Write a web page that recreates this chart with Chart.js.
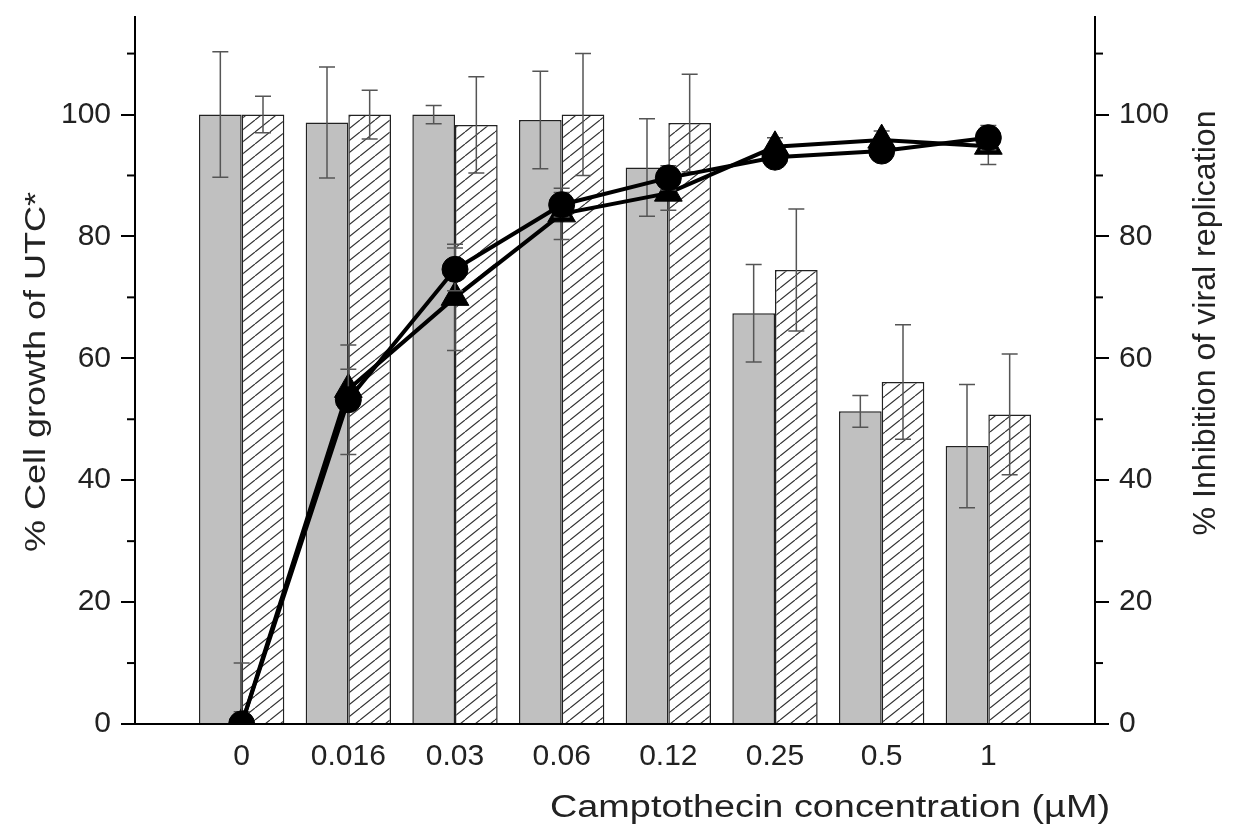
<!DOCTYPE html>
<html>
<head>
<meta charset="utf-8">
<script src="https://cdn.jsdelivr.net/npm/chart.js@4.4.1/dist/chart.umd.min.js"></script>
<style>
  html, body { margin: 0; padding: 0; background: #fff; }
  #wrap { width: 1234px; height: 828px; }
</style>
</head>
<body>
<div id="wrap"><canvas id="myChart"></canvas></div>
<script>
// camptothecin concentrations (uM)
var categories = ['0', '0.016', '0.03', '0.06', '0.12', '0.25', '0.5', '1'];

// % cell growth of UTC (left axis)
var growthSolid = [100, 98.7, 100, 99.1, 91.3, 67.4, 51.3, 45.6];
var growthSolidErr = [10.3, 9.1, 1.5, 8, 8, 8, 2.6, 10.1];
var growthHatched = [100, 100, 98.3, 100, 98.6, 74.5, 56.1, 50.8];
var growthHatchedErr = [3, 4, 7.9, 10, 8, 10, 9.4, 9.9];

// % inhibition of viral replication (right axis)
var inhibCircle = [0, 53.2, 74.6, 85.2, 89.6, 93, 94, 96.2];
var inhibCircleErr = [10, 9, 3.5, 2, 2, 1.5, 1.5, 2];
var inhibTriangle = [0, 54.9, 70, 83.7, 87.1, 94.7, 95.8, 94.8];
var inhibTriangleErr = [2, 3.3, 8.7, 4.2, 2.8, 1.5, 1.5, 3];

var yTicks = [0, 20, 40, 60, 80, 100];
var yMax = 116;

// one empty slot each side of the categories
function pad(arr) { return [null].concat(arr, [null]); }

var FONT = "'Liberation Sans', Arial, sans-serif";
Chart.defaults.font.family = FONT;

var ctx = document.getElementById('myChart').getContext('2d');

function makeHatch() {
    var c = document.createElement('canvas');
    c.width = 15; c.height = 12;
    var g = c.getContext('2d');
    g.fillStyle = '#fff';
    g.fillRect(0, 0, 15, 12);
    g.strokeStyle = '#333';
    g.lineWidth = 1.2;
    g.beginPath();
    for (var k = -1; k <= 1; k++) {
        g.moveTo(k * 15, 12);
        g.lineTo(k * 15 + 15, 0);
    }
    g.stroke();
    return ctx.createPattern(c, 'repeat');
}

function drawErrors(chart, args) {
    var ds = chart.data.datasets[args.index];
    if (!ds.errors) return;
    var meta = args.meta;
    var ys = chart.scales[meta.yAxisID];
    var a = chart.chartArea;
    var c = chart.ctx;
    c.save();
    c.beginPath();
    c.rect(a.left, a.top, a.right - a.left, a.bottom - a.top);
    c.clip();
    c.strokeStyle = '#555';
    c.lineWidth = 1.5;
    meta.data.forEach(function (el, i) {
        var v = ds.data[i], e = ds.errors[i];
        if (v == null || e == null) return;
        var top = ys.getPixelForValue(v + e), bot = ys.getPixelForValue(v - e);
        c.beginPath();
        c.moveTo(el.x, top); c.lineTo(el.x, bot);
        c.moveTo(el.x - 8, top); c.lineTo(el.x + 8, top);
        c.moveTo(el.x - 8, bot); c.lineTo(el.x + 8, bot);
        c.stroke();
    });
    c.restore();
}

var errorBars = {
    id: 'errorBars',
    beforeDatasetDraw: function (chart, args) {
        if (chart.data.datasets[args.index].type === 'line') drawErrors(chart, args);
    },
    afterDatasetDraw: function (chart, args) {
        if (chart.data.datasets[args.index].type !== 'line') drawErrors(chart, args);
    }
};

var minorTicks = {
    id: 'minorTicks',
    afterDraw: function (chart) {
        var c = chart.ctx, a = chart.chartArea;
        c.save();
        c.strokeStyle = '#000';
        c.lineWidth = 2;
        ['y', 'y2'].forEach(function (id) {
            var s = chart.scales[id];
            for (var v = 10; v <= s.max; v += 20) {
                var py = s.getPixelForValue(v);
                c.beginPath();
                if (id === 'y') { c.moveTo(a.left - 8, py); c.lineTo(a.left, py); }
                else { c.moveTo(a.right, py); c.lineTo(a.right + 8, py); }
                c.stroke();
            }
        });
        c.restore();
    }
};

function stretchedText(c, text, cx, cy, angle, size, length) {
    c.save();
    c.translate(cx, cy);
    c.rotate(angle);
    c.font = size + 'px ' + FONT;
    var w = c.measureText(text).width;
    c.scale(length / w, 1);
    c.textAlign = 'center';
    c.textBaseline = 'alphabetic';
    c.fillStyle = '#222';
    c.fillText(text, 0, 0);
    c.restore();
}

var axisTitles = {
    id: 'axisTitles',
    afterDraw: function (chart) {
        var c = chart.ctx;
        stretchedText(c, 'Camptothecin concentration (\u00b5M)', 830, 817, 0, 31, 560);
        stretchedText(c, '% Cell growth of UTC*', 45, 372, -Math.PI / 2, 29, 360);
        stretchedText(c, '% Inhibition of viral replication', 1215, 323, -Math.PI / 2, 31, 425);
    }
};

// drop the label overflow padding so the plot area sits where the reference has it
function fixWidth(w) {
    return function (s) { s.width = w; s.paddingTop = 0; s.paddingBottom = 0; };
}

var tickFont = { size: 30 };

var myChart = new Chart(ctx, {
    type: 'bar',
    data: {
        labels: pad(categories).map(function (l) { return l === null ? '' : l; }),
        datasets: [{
            type: 'line',
            label: 'Inhibition (circle)',
            data: pad(inhibCircle),
            errors: pad(inhibCircleErr),
            yAxisID: 'y2',
            borderColor: '#000',
            borderWidth: 4,
            pointStyle: 'circle',
            pointRadius: 13,
            pointBackgroundColor: '#000',
            pointBorderColor: '#000',
            pointBorderWidth: 1,
            tension: 0,
            fill: false
        }, {
            type: 'line',
            label: 'Inhibition (triangle)',
            data: pad(inhibTriangle),
            errors: pad(inhibTriangleErr),
            yAxisID: 'y2',
            borderColor: '#000',
            borderWidth: 4,
            pointStyle: 'triangle',
            pointRadius: 16,
            pointBackgroundColor: '#000',
            pointBorderColor: '#000',
            pointBorderWidth: 1,
            tension: 0,
            fill: false
        }, {
            label: 'Cell growth (solid)',
            data: pad(growthSolid),
            errors: pad(growthSolidErr),
            yAxisID: 'y',
            backgroundColor: '#c0c0c0',
            borderColor: '#222',
            borderWidth: 1.5,
            borderSkipped: 'start',
            categoryPercentage: 0.8,
            barPercentage: 1.0
        }, {
            label: 'Cell growth (hatched)',
            data: pad(growthHatched),
            errors: pad(growthHatchedErr),
            yAxisID: 'y',
            backgroundColor: makeHatch(),
            borderColor: '#222',
            borderWidth: 1.5,
            borderSkipped: 'start',
            categoryPercentage: 0.8,
            barPercentage: 1.0
        }]
    },
    options: {
        responsive: true,
        maintainAspectRatio: false,
        animation: false,
        layout: { padding: { top: 14, left: 0, right: 0, bottom: 0 } },
        plugins: {
            legend: { display: false },
            tooltip: { enabled: false }
        },
        scales: {
            x: {
                offset: false,
                grid: { display: true, drawOnChartArea: false, drawTicks: false },
                border: { color: '#000', width: 2 },
                ticks: { font: tickFont, color: '#222', padding: 15, autoSkip: false, maxRotation: 0 },
                afterFit: function (s) { s.height = 104; s.paddingLeft = 0; s.paddingRight = 0; }
            },
            y: {
                position: 'left',
                min: 0,
                max: yMax,
                afterBuildTicks: function (s) { s.ticks = yTicks.map(function (v) { return { value: v }; }); },
                ticks: { font: tickFont, color: '#222', padding: 10 },
                grid: { drawOnChartArea: false, color: '#000', lineWidth: 2, tickLength: 14 },
                border: { color: '#000', width: 2 },
                afterFit: fixWidth(135)
            },
            y2: {
                position: 'right',
                min: 0,
                max: yMax,
                afterBuildTicks: function (s) { s.ticks = yTicks.map(function (v) { return { value: v }; }); },
                ticks: { font: tickFont, color: '#222', padding: 10 },
                grid: { drawOnChartArea: false, color: '#000', lineWidth: 2, tickLength: 14 },
                border: { color: '#000', width: 2 },
                afterFit: fixWidth(139)
            }
        }
    },
    plugins: [errorBars, minorTicks, axisTitles]
});
</script>
</body>
</html>
